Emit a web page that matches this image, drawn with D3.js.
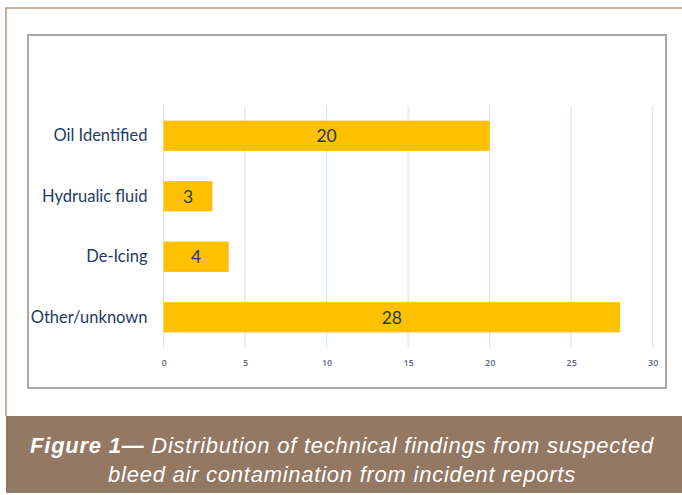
<!DOCTYPE html>
<html>
<head>
<meta charset="utf-8">
<script src="https://cdn.jsdelivr.net/npm/d3@7/dist/d3.min.js"></script>
<style>
  body { margin: 0; background: #fff; }
  svg { display: block; }
</style>
</head>
<body>
<svg id="chart" width="682" height="495"></svg>
<script>
var categories = ["Oil Identified", "Hydrualic fluid", "De-Icing", "Other/unknown"];
var counts = [20, 3, 4, 28];
var xTicks = [0, 5, 10, 15, 20, 25, 30];
var captionBold = "Figure 1\u2014";
var captionLine1 = " Distribution of technical findings from suspected";
var captionLine2 = "bleed air contamination from incident reports";

var svg = d3.select("#chart"),
  width = 682,
  height = 495,
  plot = { left: 163.5, right: 652.7, top: 105.5, bottom: 347.5 };

var x = d3.scaleLinear().domain([0, 30]).range([plot.left, plot.right]);
var y = d3.scaleBand()
  .domain(categories)
  .range([plot.top, plot.bottom])
  .paddingInner(0.5)
  .paddingOuter(0.25);

// page frame
svg.append("path")
  .attr("d", "M6,416V8H682")
  .attr("fill", "none")
  .attr("stroke", "#b39886")
  .attr("stroke-width", 1.5);

// chart box
svg.append("rect")
  .attr("x", 28)
  .attr("y", 35)
  .attr("width", 638)
  .attr("height", 353)
  .attr("fill", "#fff")
  .attr("stroke", "#a8a8a8")
  .attr("stroke-width", 2);

// gridlines
svg.append("g")
  .attr("class", "grid")
  .selectAll("line")
  .data(xTicks)
  .enter()
  .append("line")
    .attr("x1", function(d) { return x(d); })
    .attr("x2", function(d) { return x(d); })
    .attr("y1", plot.top)
    .attr("y2", plot.bottom)
    .attr("stroke", "#d5e6f7")
    .attr("stroke-width", 1.2);

// bars
var bars = svg.append("g").attr("class", "bars");
bars.selectAll("rect")
  .data(counts)
  .enter()
  .append("rect")
    .attr("x", x(0))
    .attr("y", function(d, i) { return y(categories[i]); })
    .attr("width", function(d) { return x(d) - x(0); })
    .attr("height", y.bandwidth())
    .attr("fill", "#ffc000");

bars.selectAll("text")
  .data(counts)
  .enter()
  .append("text")
    .attr("x", function(d) { return (x(0) + x(d)) / 2; })
    .attr("y", function(d, i) { return y(categories[i]) + y.bandwidth() / 2; })
    .attr("dy", "0.36em")
    .attr("text-anchor", "middle")
    .attr("font-family", "Lato, 'Open Sans', sans-serif")
    .attr("font-size", 17.5)
    .attr("fill", "#243a4e")
    .text(function(d) { return d; });

// category axis
var yAxis = svg.append("g")
  .attr("transform", "translate(" + (plot.left - 16) + ",0)")
  .call(d3.axisLeft(y).tickSize(0).tickPadding(0));
yAxis.select(".domain").remove();
yAxis.selectAll("text")
  .attr("font-family", "Lato, 'Open Sans', sans-serif")
  .attr("font-size", 16.5)
  .attr("fill", "#1f3b63");

// value axis
var xAxis = svg.append("g")
  .attr("transform", "translate(0," + plot.bottom + ")")
  .call(d3.axisBottom(x).tickValues(xTicks).tickSize(0).tickPadding(12));
xAxis.select(".domain").remove();
xAxis.selectAll("text")
  .attr("font-family", "'Open Sans', sans-serif")
  .attr("font-size", 9)
  .attr("font-weight", 600)
  .attr("fill", "#5f6b80");

// caption band
svg.append("rect")
  .attr("x", 6)
  .attr("y", 416)
  .attr("width", width - 6)
  .attr("height", 77)
  .attr("fill", "#937863");

var cap = svg.append("g")
  .attr("font-family", "'Liberation Sans', Arial, sans-serif")
  .attr("font-style", "italic")
  .attr("font-size", 22)
  .attr("letter-spacing", 0.75)
  .attr("fill", "#fff")
  .attr("text-anchor", "middle");

var l1 = cap.append("text").attr("x", 342).attr("y", 453);
l1.append("tspan").attr("font-weight", "bold").text(captionBold);
l1.append("tspan").text(captionLine1);
cap.append("text").attr("x", 342).attr("y", 481.5).text(captionLine2);
</script>
</body>
</html>
